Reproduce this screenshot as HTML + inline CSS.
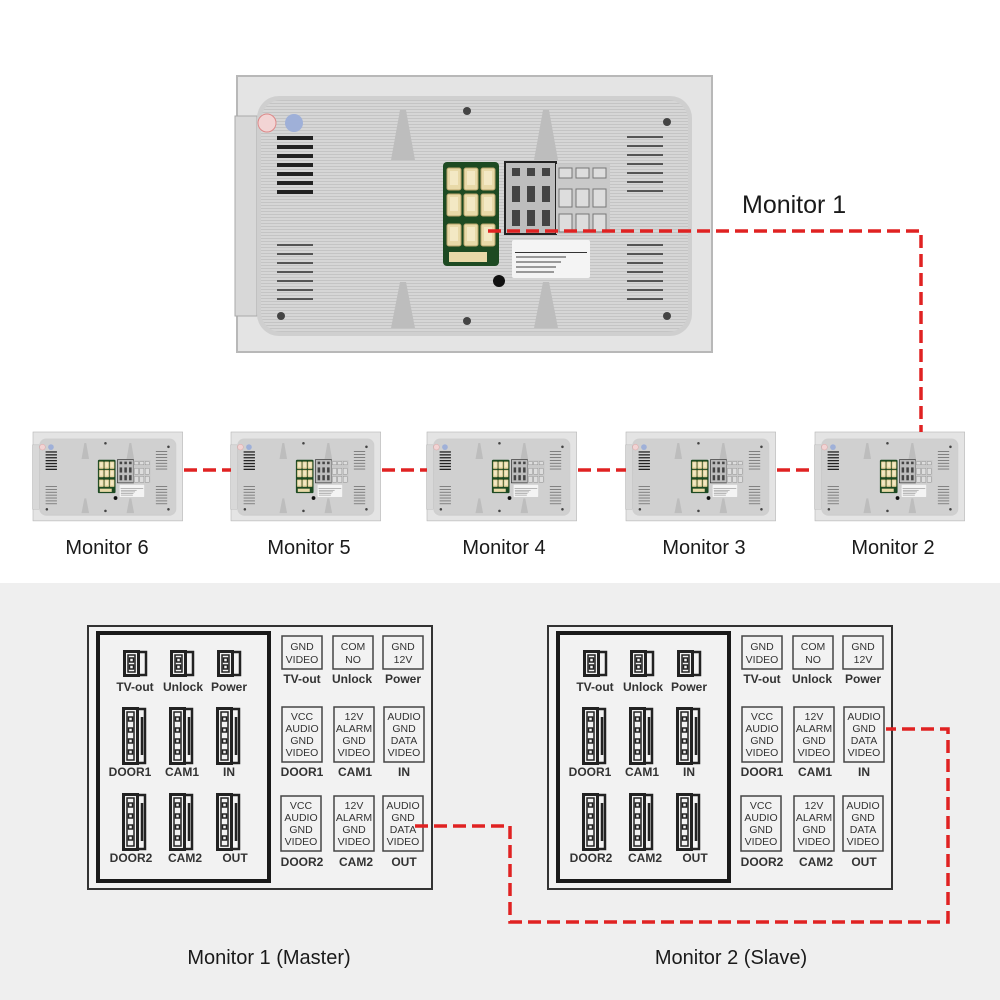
<!DOCTYPE html>
<html><head><meta charset="utf-8"><style>
html,body{margin:0;padding:0;background:#fff}
svg{display:block;font-family:"Liberation Sans",sans-serif}
</style></head><body>
<svg width="1000" height="1000" viewBox="0 0 1000 1000" xmlns="http://www.w3.org/2000/svg">
<defs>
<pattern id="st" width="4" height="3" patternUnits="userSpaceOnUse"><rect width="4" height="3" fill="#d6d6d6"/><rect width="4" height="1" fill="#c4c4c4"/></pattern>
<g id="vent"><rect x="0" y="0" width="36" height="4" fill="#222"/><rect x="0" y="9" width="36" height="4" fill="#222"/><rect x="0" y="18" width="36" height="4" fill="#222"/><rect x="0" y="27" width="36" height="4" fill="#222"/><rect x="0" y="36" width="36" height="4" fill="#222"/><rect x="0" y="45" width="36" height="4" fill="#222"/><rect x="0" y="54" width="36" height="4" fill="#222"/></g>
<g id="vent2"><rect x="0" y="0" width="36" height="2" fill="#555"/><rect x="0" y="9" width="36" height="2" fill="#555"/><rect x="0" y="18" width="36" height="2" fill="#555"/><rect x="0" y="27" width="36" height="2" fill="#555"/><rect x="0" y="36" width="36" height="2" fill="#555"/><rect x="0" y="45" width="36" height="2" fill="#555"/><rect x="0" y="54" width="36" height="2" fill="#555"/></g>
<g id="pc"><rect width="14" height="22" rx="2" fill="#e8d9a8" stroke="#b9a46a"/><rect x="3" y="3" width="8" height="14" fill="#f3e8c4"/></g>
<g id="mon">
  <rect x="0" y="0" width="475" height="276" fill="#e4e4e4" stroke="#b8b8b8" stroke-width="2"/>
  <rect x="-2" y="40" width="22" height="200" fill="#d8d8d8" stroke="#aaa"/>
  <rect x="20" y="20" width="435" height="240" rx="22" fill="#cfcfcf"/>
  <rect x="24" y="24" width="427" height="232" rx="20" fill="url(#st)"/>
  <polygon points="163,34 169,34 178,84 154,84" fill="#bdbdbd"/>
  <polygon points="306,34 312,34 321,84 297,84" fill="#bdbdbd"/>
  <polygon points="163,206 169,206 178,252 154,252" fill="#bdbdbd"/>
  <polygon points="306,206 312,206 321,252 297,252" fill="#bdbdbd"/>
  <use href="#vent" x="40" y="60"/>
  <use href="#vent2" x="40" y="168"/>
  <use href="#vent2" x="390" y="60"/>
  <use href="#vent2" x="390" y="168"/>
  <circle cx="30" cy="47" r="9" fill="#f2d4d4" stroke="#d88"/>
  <circle cx="57" cy="47" r="9" fill="#9fb0d8"/>
  <circle cx="230" cy="35" r="4" fill="#444"/><circle cx="230" cy="245" r="4" fill="#444"/>
  <circle cx="44" cy="240" r="4" fill="#444"/><circle cx="430" cy="240" r="4" fill="#444"/><circle cx="430" cy="46" r="4" fill="#444"/>
  <rect x="206" y="86" width="56" height="104" rx="4" fill="#1d4a22"/>
  <use href="#pc" x="210" y="92"/><use href="#pc" x="227" y="92"/><use href="#pc" x="244" y="92"/>
  <use href="#pc" x="210" y="118"/><use href="#pc" x="227" y="118"/><use href="#pc" x="244" y="118"/>
  <use href="#pc" x="210" y="148"/><use href="#pc" x="227" y="148"/><use href="#pc" x="244" y="148"/>
  <rect x="212" y="176" width="38" height="10" fill="#e8d9a8"/>
  <rect x="268" y="86" width="51" height="72" fill="#bdbdbd" stroke="#222" stroke-width="2"/>
  <rect x="319" y="88" width="54" height="70" fill="#c9c9c9"/>
  <g fill="#444"><rect x="275" y="92" width="8" height="8"/><rect x="290" y="92" width="8" height="8"/><rect x="305" y="92" width="8" height="8"/>
  <rect x="275" y="110" width="8" height="16"/><rect x="290" y="110" width="8" height="16"/><rect x="305" y="110" width="8" height="16"/>
  <rect x="275" y="134" width="8" height="16"/><rect x="290" y="134" width="8" height="16"/><rect x="305" y="134" width="8" height="16"/></g>
  <g fill="#ddd" stroke="#777"><rect x="322" y="92" width="13" height="10"/><rect x="339" y="92" width="13" height="10"/><rect x="356" y="92" width="13" height="10"/>
  <rect x="322" y="113" width="13" height="18"/><rect x="339" y="113" width="13" height="18"/><rect x="356" y="113" width="13" height="18"/>
  <rect x="322" y="138" width="13" height="18"/><rect x="339" y="138" width="13" height="18"/><rect x="356" y="138" width="13" height="18"/></g>
  <rect x="275" y="164" width="78" height="38" rx="2" fill="#f4f4f4"/>
  <rect x="278" y="176" width="72" height="1" fill="#333"/>
  <g fill="#999"><rect x="279" y="180" width="50" height="2"/><rect x="279" y="185" width="45" height="2"/><rect x="279" y="190" width="40" height="2"/><rect x="279" y="195" width="38" height="2"/></g>
  <circle cx="262" cy="205" r="6" fill="#111"/>
</g>
<g id="c3" fill="none" stroke="#222"><rect x="1.5" y="1.5" width="14" height="24" stroke-width="3"/><rect x="5" y="5" width="7" height="17" stroke-width="1.5"/><rect x="6.5" y="8" width="4" height="4" stroke-width="1.5"/><rect x="6.5" y="15" width="4" height="4" stroke-width="1.5"/><path d="M17,2 h6 v23 h-6" stroke-width="2.5"/></g>
<g id="c5" fill="none" stroke="#222"><rect x="1.5" y="1.5" width="14" height="55" stroke-width="3"/><rect x="5" y="5" width="7" height="48" stroke-width="1.5"/><rect x="6.5" y="10" width="4" height="4" stroke-width="1.5"/><rect x="6.5" y="21" width="4" height="4" stroke-width="1.5"/><rect x="6.5" y="32" width="4" height="4" stroke-width="1.5"/><rect x="6.5" y="43" width="4" height="4" stroke-width="1.5"/><path d="M17,2 h6 v54 h-6 M20,10 v38" stroke-width="2.5"/></g>
<g id="diag">
  <rect x="88" y="626" width="344" height="263" fill="#f2f2f2" stroke="#333" stroke-width="2"/>
  <rect x="98" y="633" width="171" height="248" fill="none" stroke="#1a1a1a" stroke-width="4"/>
  <use href="#c3" x="123" y="650"/><use href="#c3" x="170" y="650"/><use href="#c3" x="217" y="650"/>
  <use href="#c5" x="122" y="707"/><use href="#c5" x="169" y="707"/><use href="#c5" x="216" y="707"/>
  <use href="#c5" x="122" y="793"/><use href="#c5" x="169" y="793"/><use href="#c5" x="216" y="793"/>
  <g font-size="12" font-weight="bold" fill="#333" text-anchor="middle">
    <text x="135" y="691">TV-out</text><text x="183" y="691">Unlock</text><text x="229" y="691">Power</text>
    <text x="130" y="776">DOOR1</text><text x="182" y="776">CAM1</text><text x="229" y="776">IN</text>
    <text x="131" y="862">DOOR2</text><text x="185" y="862">CAM2</text><text x="235" y="862">OUT</text>
    <text x="302" y="683">TV-out</text><text x="352" y="683">Unlock</text><text x="403" y="683">Power</text>
    <text x="302" y="776">DOOR1</text><text x="355" y="776">CAM1</text><text x="404" y="776">IN</text>
    <text x="302" y="866">DOOR2</text><text x="356" y="866">CAM2</text><text x="404" y="866">OUT</text>
  </g>
  <g fill="none" stroke="#444" stroke-width="1.5">
    <rect x="282" y="636" width="40" height="33"/><rect x="333" y="636" width="40" height="33"/><rect x="383" y="636" width="40" height="33"/>
    <rect x="282" y="707" width="40" height="55"/><rect x="334" y="707" width="40" height="55"/><rect x="384" y="707" width="40" height="55"/>
    <rect x="281" y="796" width="40" height="55"/><rect x="334" y="796" width="40" height="55"/><rect x="383" y="796" width="40" height="55"/>
  </g>
  <g font-size="10.5" fill="#333" text-anchor="middle">
    <text x="302" y="650">GND</text><text x="302" y="663">VIDEO</text>
    <text x="353" y="650">COM</text><text x="353" y="663">NO</text>
    <text x="403" y="650">GND</text><text x="403" y="663">12V</text>
    <text x="302" y="720">VCC</text><text x="302" y="732">AUDIO</text><text x="302" y="744">GND</text><text x="302" y="756">VIDEO</text>
    <text x="354" y="720">12V</text><text x="354" y="732">ALARM</text><text x="354" y="744">GND</text><text x="354" y="756">VIDEO</text>
    <text x="404" y="720">AUDIO</text><text x="404" y="732">GND</text><text x="404" y="744">DATA</text><text x="404" y="756">VIDEO</text>
    <text x="301" y="809">VCC</text><text x="301" y="821">AUDIO</text><text x="301" y="833">GND</text><text x="301" y="845">VIDEO</text>
    <text x="354" y="809">12V</text><text x="354" y="821">ALARM</text><text x="354" y="833">GND</text><text x="354" y="845">VIDEO</text>
    <text x="403" y="809">AUDIO</text><text x="403" y="821">GND</text><text x="403" y="833">DATA</text><text x="403" y="845">VIDEO</text>
  </g>
</g>
</defs>
<rect x="0" y="583" width="1000" height="417" fill="#efefef"/>
<use href="#mon" transform="translate(237,76)"/>
<use href="#mon" transform="translate(33,432) scale(0.315,0.322)"/>
<use href="#mon" transform="translate(231,432) scale(0.315,0.322)"/>
<use href="#mon" transform="translate(427,432) scale(0.315,0.322)"/>
<use href="#mon" transform="translate(626,432) scale(0.315,0.322)"/>
<use href="#mon" transform="translate(815,432) scale(0.315,0.322)"/>
<text x="742" y="213" font-size="25" fill="#1a1a1a">Monitor 1</text>
<g font-size="20" fill="#1a1a1a" text-anchor="middle">
<text x="107" y="554">Monitor 6</text><text x="309" y="554">Monitor 5</text><text x="504" y="554">Monitor 4</text><text x="704" y="554">Monitor 3</text><text x="893" y="554">Monitor 2</text>
<text x="269" y="964">Monitor 1 (Master)</text><text x="731" y="964">Monitor 2 (Slave)</text>
</g>
<use href="#diag"/>
<use href="#diag" transform="translate(460,0)"/>
<g fill="none" stroke="#e02222" stroke-width="3.5" stroke-dasharray="13,6">
<path d="M488,231 H921 V432"/>
<path d="M184,470 H231"/><path d="M382,470 H427"/><path d="M578,470 H626"/><path d="M777,470 H815"/>
<path d="M415,826 H510 V922 H948 V729 H886"/>
</g>
</svg>
</body></html>
